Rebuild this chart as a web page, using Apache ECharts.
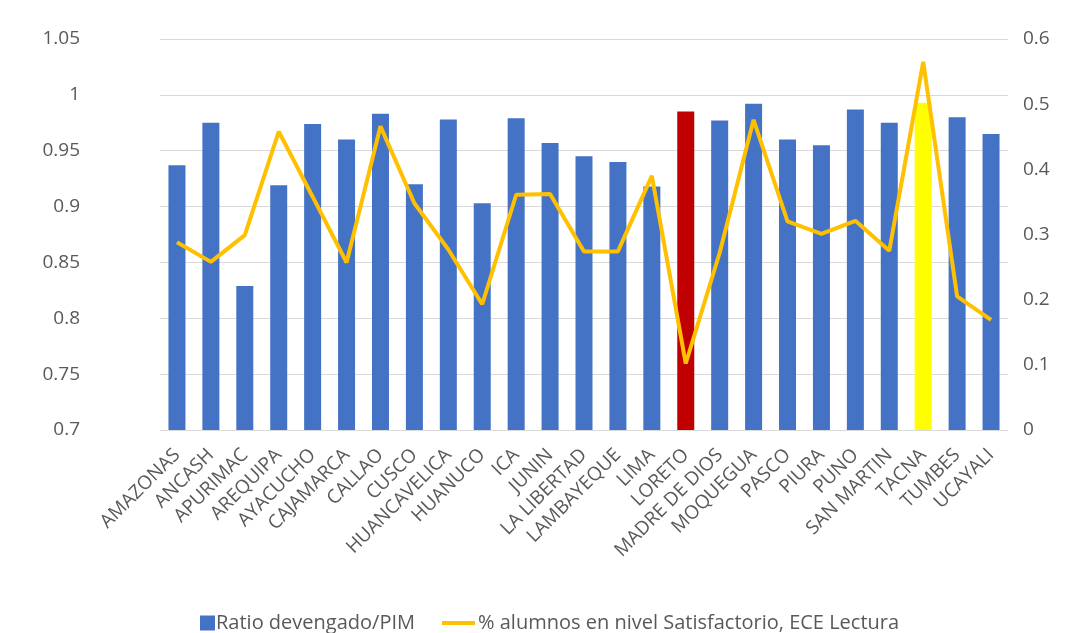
<!DOCTYPE html>
<html>
<head>
<meta charset="utf-8">
<title>Ratio devengado/PIM vs ECE Lectura</title>
<script src="https://cdn.jsdelivr.net/npm/echarts@6/dist/echarts.min.js"></script>
<style>
  html, body { margin: 0; padding: 0; background: #fff; }
  #chart { width: 1065px; height: 633px; }
</style>
</head>
<body>
<div id="chart"></div>
<script>
// regiones
var regiones = ['AMAZONAS', 'ANCASH', 'APURIMAC', 'AREQUIPA', 'AYACUCHO', 'CAJAMARCA', 'CALLAO',
  'CUSCO', 'HUANCAVELICA', 'HUANUCO', 'ICA', 'JUNIN', 'LA LIBERTAD', 'LAMBAYEQUE', 'LIMA',
  'LORETO', 'MADRE DE DIOS', 'MOQUEGUA', 'PASCO', 'PIURA', 'PUNO', 'SAN MARTIN', 'TACNA',
  'TUMBES', 'UCAYALI']

// ratio devengado / PIM (eje izquierdo)
var ratioDevengado = [0.937, 0.975, 0.829, 0.919, 0.974, 0.960, 0.983, 0.920, 0.978, 0.903,
  0.979, 0.957, 0.945, 0.940, 0.918, 0.985, 0.977, 0.992, 0.960, 0.955, 0.987, 0.975, 0.993,
  0.980, 0.965]

// % alumnos en nivel satisfactorio (eje derecho)
var satisfactorio = [0.288, 0.258, 0.299, 0.458, 0.358, 0.257, 0.466, 0.348, 0.277, 0.193,
  0.361, 0.362, 0.274, 0.274, 0.390, 0.102, 0.272, 0.476, 0.320, 0.301, 0.321, 0.275, 0.565,
  0.205, 0.169]

var leftTicks = { min: 0.7, max: 1.05, interval: 0.05 }
var rightTicks = { min: 0, max: 0.6, interval: 0.1 }

var seriesNames = ['Ratio devengado/PIM', '% alumnos en nivel Satisfactorio, ECE Lectura']

// barras resaltadas
var resaltado = { 'LORETO': '#C00000', 'TACNA': '#FFFF00' }

var txt = '#595959'
var chart = echarts.init(document.getElementById('chart'))

chart.setOption({
  animation: false,
  textStyle: { fontFamily: 'Open Sans, sans-serif' },
  grid: { left: 160, right: 57, top: 39, bottom: 203, containLabel: false },
  legend: [
    {
      top: 608,
      left: 195,
      itemWidth: 15,
      itemHeight: 15,
      itemGap: 4,
      icon: 'rect',
      textStyle: { color: txt, fontSize: 20, padding: [0, 0, 0, -4] },
      data: [seriesNames[0]]
    },
    {
      top: 608,
      left: 437,
      itemWidth: 33,
      itemHeight: 15,
      icon: 'path://M0,0H33V4H0Z',
      textStyle: { color: txt, fontSize: 20, padding: [0, 0, 0, -2] },
      data: [seriesNames[1]]
    }
  ],
  xAxis: {
    type: 'category',
    data: regiones,
    axisTick: { show: false },
    axisLine: { show: false },
    axisLabel: { rotate: 45, color: txt, fontSize: 19, margin: 22, interval: 0 }
  },
  yAxis: [
    {
      type: 'value',
      min: leftTicks.min,
      max: leftTicks.max,
      interval: leftTicks.interval,
      axisLine: { show: false },
      axisTick: { show: false },
      splitLine: { lineStyle: { color: '#D9D9D9', width: 1 } },
      axisLabel: {
        color: txt, fontSize: 19, margin: 80,
        formatter: function (v) { return String(parseFloat(v.toFixed(2))) }
      }
    },
    {
      type: 'value',
      min: rightTicks.min,
      max: rightTicks.max,
      interval: rightTicks.interval,
      axisLine: { show: false },
      axisTick: { show: false },
      splitLine: { show: false },
      axisLabel: {
        color: txt, fontSize: 19, margin: 15,
        formatter: function (v) { return String(parseFloat(v.toFixed(1))) }
      }
    }
  ],
  series: [
    {
      name: seriesNames[0],
      type: 'bar',
      yAxisIndex: 0,
      barWidth: 17,
      itemStyle: { color: '#4472C4' },
      data: ratioDevengado.map(function (v, i) {
        var c = resaltado[regiones[i]]
        return c ? { value: v, itemStyle: { color: c } } : v
      })
    },
    {
      name: seriesNames[1],
      type: 'line',
      yAxisIndex: 1,
      symbol: 'none',
      lineStyle: { color: '#FFC000', width: 4 },
      itemStyle: { color: '#FFC000' },
      data: satisfactorio
    }
  ]
})
</script>
</body>
</html>
